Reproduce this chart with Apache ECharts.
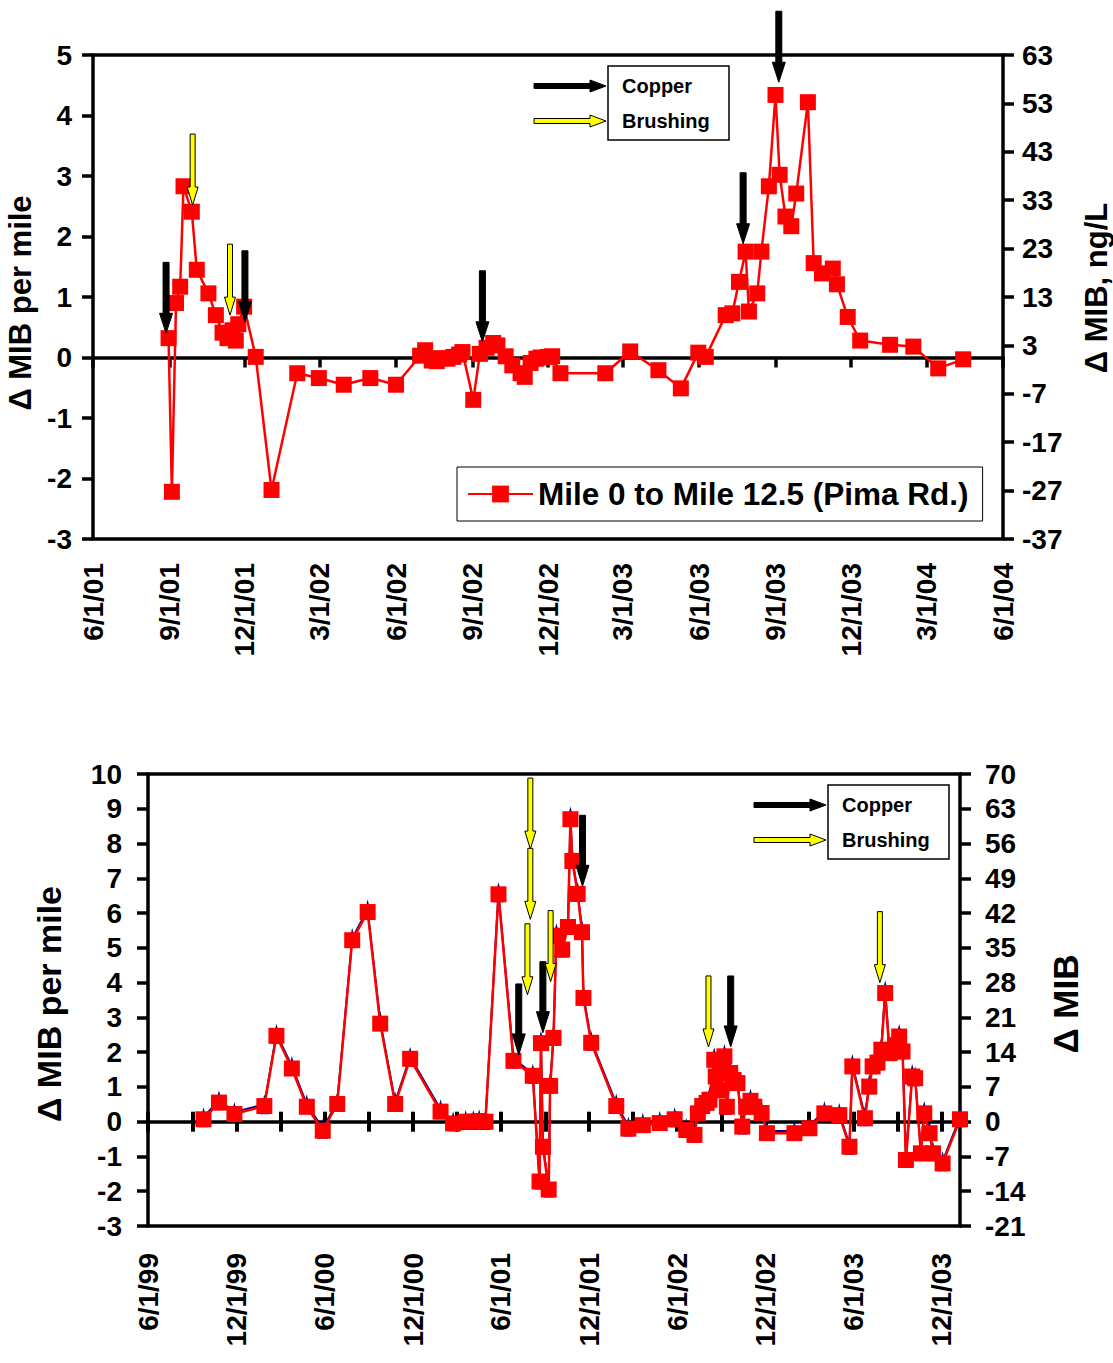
<!DOCTYPE html>
<html>
<head>
<meta charset="utf-8">
<title>Δ MIB per mile</title>
<script src="https://cdn.jsdelivr.net/npm/echarts@6/dist/echarts.min.js"></script>
<style>
  html, body { margin: 0; padding: 0; background: #fff; }
  #chart { width: 1113px; height: 1363px; }
</style>
</head>
<body>
<div id="chart"></div>
<script>
// ---- Upper panel: Mile 0 to Mile 12.5 (Pima Rd.) ----
const topDates = ['2001-08-31','2001-09-04','2001-09-09','2001-09-14','2001-09-18','2001-09-28','2001-10-04','2001-10-18','2001-10-27','2001-11-04',
  '2001-11-10','2001-11-16','2001-11-20','2001-11-23','2001-11-30','2001-12-14','2002-01-02','2002-02-02','2002-02-28','2002-03-30',
  '2002-05-01','2002-06-01','2002-06-30','2002-07-06','2002-07-14','2002-07-20','2002-07-25','2002-08-02','2002-08-09','2002-08-16',
  '2002-08-20','2002-09-02','2002-09-10','2002-09-18','2002-09-26','2002-10-01','2002-10-11','2002-10-19','2002-10-29','2002-11-03',
  '2002-11-10','2002-11-17','2002-11-22','2002-12-01','2002-12-06','2002-12-16','2003-02-08','2003-03-10','2003-04-13','2003-05-10',
  '2003-05-31','2003-06-09','2003-07-03','2003-07-11','2003-07-19','2003-07-27','2003-07-31','2003-08-10','2003-08-15','2003-08-24',
  '2003-09-01','2003-09-06','2003-09-13','2003-09-20','2003-09-26','2003-10-10','2003-10-17','2003-10-27','2003-11-09','2003-11-14',
  '2003-11-27','2003-12-12','2004-01-17','2004-02-14','2004-03-15','2004-04-14'];
const topValues = [0.32,-2.22,0.90,1.17,2.83,2.41,1.45,1.06,0.70,0.41,
  0.32,0.45,0.28,0.55,0.84,0.01,-2.19,-0.26,-0.34,-0.45,
  -0.34,-0.45,0.03,0.12,-0.05,-0.06,-0.01,-0.02,0.01,0.05,
  0.09,-0.70,0.06,0.16,0.24,0.20,0.02,-0.13,-0.26,-0.32,
  -0.09,-0.02,0.00,0.01,0.02,-0.26,-0.26,0.10,-0.21,-0.51,
  0.08,0.01,0.70,0.73,1.25,1.75,0.76,1.06,1.75,2.83,
  4.34,3.02,2.33,2.17,2.71,4.22,1.56,1.39,1.47,1.21,
  0.67,0.28,0.21,0.18,-0.18,-0.03];
const topSeriesName = 'Mile 0 to Mile 12.5 (Pima Rd.)';

// event arrows: date and the value the arrow tip points at
const topCopperDates = ['2001-08-28','2001-12-01','2002-09-13','2003-07-24','2003-09-05'];
const topCopperTips = [0.40,0.59,0.26,1.88,4.55];
const topBrushDates = ['2001-09-29','2001-11-13'];
const topBrushTips = [2.52,0.70];

const topTickDates = ['2001-06-01','2001-09-01','2001-12-01','2002-03-01','2002-06-01','2002-09-01','2002-12-01',
  '2003-03-01','2003-06-01','2003-09-01','2003-12-01','2004-03-01','2004-06-01'];

// ---- Lower panel ----
const botDates = ['1999-09-24','1999-10-26','1999-11-27','2000-01-28','2000-02-22','2000-03-25','2000-04-25','2000-05-28','2000-06-27','2000-07-28',
  '2000-08-29','2000-09-24','2000-10-25','2000-11-25','2001-01-27','2001-02-22','2001-03-20','2001-04-05','2001-04-17','2001-04-30',
  '2001-05-27','2001-06-27','2001-08-06','2001-08-20','2001-08-23','2001-08-27','2001-09-08','2001-09-11','2001-09-18','2001-09-24',
  '2001-10-06','2001-10-18','2001-10-23','2001-10-27','2001-11-07','2001-11-16','2001-11-19','2001-12-05','2002-01-26','2002-02-20',
  '2002-03-22','2002-04-26','2002-05-27','2002-06-20','2002-07-07','2002-07-14','2002-07-23','2002-08-01','2002-08-07','2002-08-17',
  '2002-08-20','2002-08-26','2002-09-01','2002-09-07','2002-09-12','2002-09-19','2002-09-26','2002-10-04','2002-10-14','2002-10-22',
  '2002-10-31','2002-11-08','2002-11-23','2002-12-04','2003-01-30','2003-03-02','2003-04-02','2003-05-03','2003-05-24','2003-05-30',
  '2003-06-25','2003-07-04','2003-07-11','2003-07-21','2003-07-29','2003-08-06','2003-08-15','2003-08-27','2003-09-04','2003-09-11',
  '2003-09-18','2003-10-01','2003-10-07','2003-10-19','2003-10-26','2003-11-06','2003-11-13','2003-12-03','2004-01-08'];
const botValues = [0.07,0.55,0.22,0.45,2.47,1.53,0.43,-0.26,0.51,5.22,
  6.03,2.82,0.51,1.81,0.29,-0.05,0.00,0.00,0.02,0.00,
  6.54,1.75,1.32,-1.72,2.26,-0.72,-1.95,1.03,2.41,5.35,
  4.95,5.60,8.70,7.50,6.55,5.45,3.56,2.27,0.45,-0.20,
  -0.10,-0.04,0.07,-0.24,-0.38,0.24,0.45,0.54,0.63,1.78,
  1.30,0.90,1.55,1.88,0.43,1.40,1.20,1.11,-0.14,0.43,
  0.60,0.43,0.25,-0.33,-0.33,-0.19,0.24,0.19,-0.72,1.59,
  0.10,1.01,1.59,1.70,2.07,3.70,1.97,2.20,2.45,2.02,
  -1.10,1.30,1.25,-0.91,0.24,-0.33,-0.91,-1.20,0.07];
// companion series drawn underneath (navy)
const botValues2 = [0.13,0.62,0.28,0.50,2.53,1.60,0.50,-0.20,0.57,5.28,
  6.10,2.90,0.57,1.87,0.36,0.01,0.05,0.05,0.07,0.05,
  6.60,1.82,1.38,-1.66,2.33,-0.66,-1.89,1.10,2.47,5.42,
  5.01,5.67,8.78,7.56,6.61,5.52,3.63,2.33,0.52,-0.14,
  -0.03,0.03,0.13,-0.18,-0.32,0.31,0.51,0.60,0.70,1.85,
  1.36,0.97,1.61,1.95,0.49,1.46,1.27,1.17,-0.08,0.50,
  0.67,0.49,0.31,-0.27,-0.27,-0.12,0.31,0.25,-0.66,1.66,
  0.16,1.08,1.65,1.77,2.13,3.77,2.03,2.27,2.52,2.08,
  -1.04,1.37,1.31,-0.85,0.31,-0.27,-0.85,-1.14,0.13];

const botCopperDates = ['2001-07-08','2001-08-27','2001-11-17','2002-09-20'];
const botCopperTips = [1.92,2.56,6.77,2.15];
const botBrushDates = ['2001-08-01','2001-08-01','2001-07-26','2001-09-12','2002-08-05','2003-07-26'];
const botBrushTips = [7.84,5.82,3.65,4.03,2.15,4.00];

const botLabelDates = ['1999-06-01','1999-12-01','2000-06-01','2000-12-01','2001-06-01','2001-12-01',
  '2002-06-01','2002-12-01','2003-06-01','2003-12-01'];
const botTickDates = ['1999-06-01','1999-09-01','1999-12-01','2000-03-01','2000-06-01','2000-09-01','2000-12-01',
  '2001-03-01','2001-06-01','2001-09-01','2001-12-01','2002-03-01','2002-06-01','2002-09-01','2002-12-01',
  '2003-03-01','2003-06-01','2003-09-01','2003-12-01'];

const legendItems = ['Copper', 'Brushing'];

// ---- helpers ----
const FONT = '"Liberation Sans", Arial, Helvetica, sans-serif';
function ts(s) { const p = s.split('-').map(Number); return new Date(p[0], p[1] - 1, p[2]).getTime(); }
function fmtDate(v) { const d = new Date(v); return (d.getMonth() + 1) + '/' + d.getDate() + '/' + String(d.getFullYear()).slice(2); }
function pairs(dates, vals) { return dates.map((d, i) => [ts(d), vals[i]]); }

const RED = '#FF0000', NAVY = '#000080', YELLOW = '#FFFF00';

function downArrow(fill, sw, hw, hl) {
  const L = 71;
  return function (params, api) {
    const p = api.coord([api.value(0), api.value(1)]);
    const x = p[0], y = p[1];
    return {
      type: 'polygon',
      shape: { points: [[x - sw / 2, y - L], [x + sw / 2, y - L], [x + sw / 2, y - hl], [x + hw / 2, y - hl], [x, y], [x - hw / 2, y - hl], [x - sw / 2, y - hl]] },
      style: { fill: fill, stroke: '#000', lineWidth: 1 }
    };
  };
}

function rightArrow(x0, x1, y, fill) {
  const sh = 5, hh = 12, hl = 16;
  return {
    type: 'polygon', z: 100,
    shape: { points: [[x0, y - sh / 2], [x1 - hl, y - sh / 2], [x1 - hl, y - hh / 2], [x1, y], [x1 - hl, y + hh / 2], [x1 - hl, y + sh / 2], [x0, y + sh / 2]] },
    style: { fill: fill, stroke: '#000', lineWidth: 1 }
  };
}

function arrowLegend(boxX, boxY, boxW, boxH, arrowX0) {
  const rowY = [boxY + 20, boxY + 55];
  const els = [
    { type: 'rect', z: 100, shape: { x: boxX, y: boxY, width: boxW, height: boxH }, style: { fill: '#fff', stroke: '#000', lineWidth: 1.5 } },
    rightArrow(arrowX0, boxX - 2, rowY[0], '#000'),
    rightArrow(arrowX0, boxX - 2, rowY[1], YELLOW)
  ];
  legendItems.forEach((t, i) => {
    els.push({ type: 'text', z: 101, style: { x: boxX + 14, y: rowY[i], text: t, fill: '#000', font: 'bold 20px ' + FONT, textVerticalAlign: 'middle' } });
  });
  return els;
}

const labelStyle = { color: '#000', fontFamily: FONT, fontWeight: 'bold' };

function yAxisDef(grid, pos, min, max, interval, name, nameGap, nameSize, namePad, margin) {
  return {
    type: 'value', gridIndex: grid, position: pos, min: min, max: max, interval: interval,
    name: name, nameLocation: 'middle', nameRotate: 90, nameGap: nameGap,
    nameTextStyle: Object.assign({ fontSize: nameSize, padding: namePad }, labelStyle),
    axisLine: { show: false, onZero: false },
    axisTick: { show: true, inside: false, length: 11, lineStyle: { color: '#000', width: 3.5 } },
    axisLabel: Object.assign({ fontSize: 28, margin: margin }, labelStyle),
    splitLine: { show: false }
  };
}

function dateAxis(grid, min, max, extra) {
  return Object.assign({ type: 'value', gridIndex: grid, min: min, max: max, position: 'bottom', splitLine: { show: false } }, extra);
}

const topMin = ts('2001-06-01'), topMax = ts('2004-06-01');
const botMin = ts('1999-06-01'), botMax = ts('2004-01-08');

const option = {
  animation: false,
  backgroundColor: '#fff',
  grid: [
    { left: 93, right: 110, top: 55, height: 484, show: true, borderColor: '#000', borderWidth: 3.5, backgroundColor: 'transparent', outerBoundsMode: 'none' },
    { left: 148, right: 153, top: 774, height: 452, show: true, borderColor: '#000', borderWidth: 3.5, backgroundColor: 'transparent', outerBoundsMode: 'none' }
  ],
  xAxis: [
    // 0: top panel date labels at the bottom edge
    dateAxis(0, topMin, topMax, {
      axisLine: { show: false, onZero: false }, axisTick: { show: false },
      axisLabel: Object.assign({ customValues: topTickDates.map(ts), formatter: fmtDate, rotate: 90, fontSize: 28, margin: 24 }, labelStyle) }),
    // 1: top panel zero line with outward ticks
    dateAxis(0, topMin, topMax, {
      axisLine: { show: true, onZero: true, onZeroAxisIndex: 0, lineStyle: { color: '#000', width: 3.5 } },
      axisTick: { show: true, inside: false, length: 10, customValues: topTickDates.map(ts), lineStyle: { color: '#000', width: 3.5 } },
      axisLabel: { show: false } }),
    // 2: lower panel date labels
    dateAxis(1, botMin, botMax, {
      axisLine: { show: false, onZero: false }, axisTick: { show: false },
      axisLabel: Object.assign({ customValues: botLabelDates.map(ts), formatter: fmtDate, rotate: 90, fontSize: 28, margin: 27 }, labelStyle) }),
    // 3 & 4: lower panel zero line with crossing ticks
    dateAxis(1, botMin, botMax, {
      axisLine: { show: true, onZero: true, onZeroAxisIndex: 2, lineStyle: { color: '#000', width: 3.5 } },
      axisTick: { show: true, inside: false, length: 10, customValues: botTickDates.map(ts), lineStyle: { color: '#000', width: 4 } },
      axisLabel: { show: false } }),
    dateAxis(1, botMin, botMax, {
      axisLine: { show: false, onZero: true, onZeroAxisIndex: 2 },
      axisTick: { show: true, inside: true, length: 10, customValues: botTickDates.map(ts), lineStyle: { color: '#000', width: 4 } },
      axisLabel: { show: false } })
  ],
  yAxis: [
    yAxisDef(0, 'left', -3, 5, 1, 'Δ MIB per mile', 52, 31, [0, 12, 0, 0], 21),
    yAxisDef(0, 'right', -37, 63, 10, 'Δ MIB, ng/L', 78, 31, [0, 0, 0, 18], 19),
    yAxisDef(1, 'left', -3, 10, 1, 'Δ MIB per mile', 82, 34, [0, 8, 0, 0], 26),
    yAxisDef(1, 'right', -21, 70, 7, 'Δ MIB', 88, 35, [0, 8, 0, 0], 25)
  ],
  legend: [{
    data: [topSeriesName], left: 457, top: 467,
    padding: [11, 14, 11, 10], itemWidth: 65, itemHeight: 21, itemGap: 0,
    backgroundColor: '#fff', borderColor: '#000', borderWidth: 1,
    textStyle: { color: '#000', fontFamily: FONT, fontWeight: 'bold', fontSize: 31.5 }
  }],
  series: [
    { name: topSeriesName, type: 'line', xAxisIndex: 1, yAxisIndex: 0, data: pairs(topDates, topValues),
      symbol: 'rect', symbolSize: 16, itemStyle: { color: RED }, lineStyle: { color: RED, width: 2.5 }, z: 3 },
    { name: 'Copper', type: 'custom', xAxisIndex: 1, yAxisIndex: 0, data: pairs(topCopperDates, topCopperTips),
      renderItem: downArrow('#000', 6, 13, 20), clip: false, z: 10 },
    { name: 'Brushing', type: 'custom', xAxisIndex: 1, yAxisIndex: 0, data: pairs(topBrushDates, topBrushTips),
      renderItem: downArrow(YELLOW, 5, 11, 18), clip: false, z: 10 },

    { name: 'companion', type: 'line', xAxisIndex: 3, yAxisIndex: 2, data: pairs(botDates, botValues2),
      symbol: 'triangle', symbolSize: [10, 20], itemStyle: { color: NAVY }, lineStyle: { color: NAVY, width: 2 }, z: 2 },
    { name: 'per mile', type: 'line', xAxisIndex: 3, yAxisIndex: 2, data: pairs(botDates, botValues),
      symbol: 'rect', symbolSize: 16, itemStyle: { color: RED }, lineStyle: { color: RED, width: 2.5 }, z: 3 },
    { name: 'Copper', type: 'custom', xAxisIndex: 3, yAxisIndex: 2, data: pairs(botCopperDates, botCopperTips),
      renderItem: downArrow('#000', 6, 13, 21), clip: false, z: 10 },
    { name: 'Brushing', type: 'custom', xAxisIndex: 3, yAxisIndex: 2, data: pairs(botBrushDates, botBrushTips),
      renderItem: downArrow(YELLOW, 5, 11, 18), clip: false, z: 10 }
  ],
  graphic: arrowLegend(608, 66, 121, 74, 534).concat(arrowLegend(828, 785, 121, 74, 754))
};

const chart = echarts.init(document.getElementById('chart'), null, { renderer: 'svg' });
chart.setOption(option);
</script>
</body>
</html>
